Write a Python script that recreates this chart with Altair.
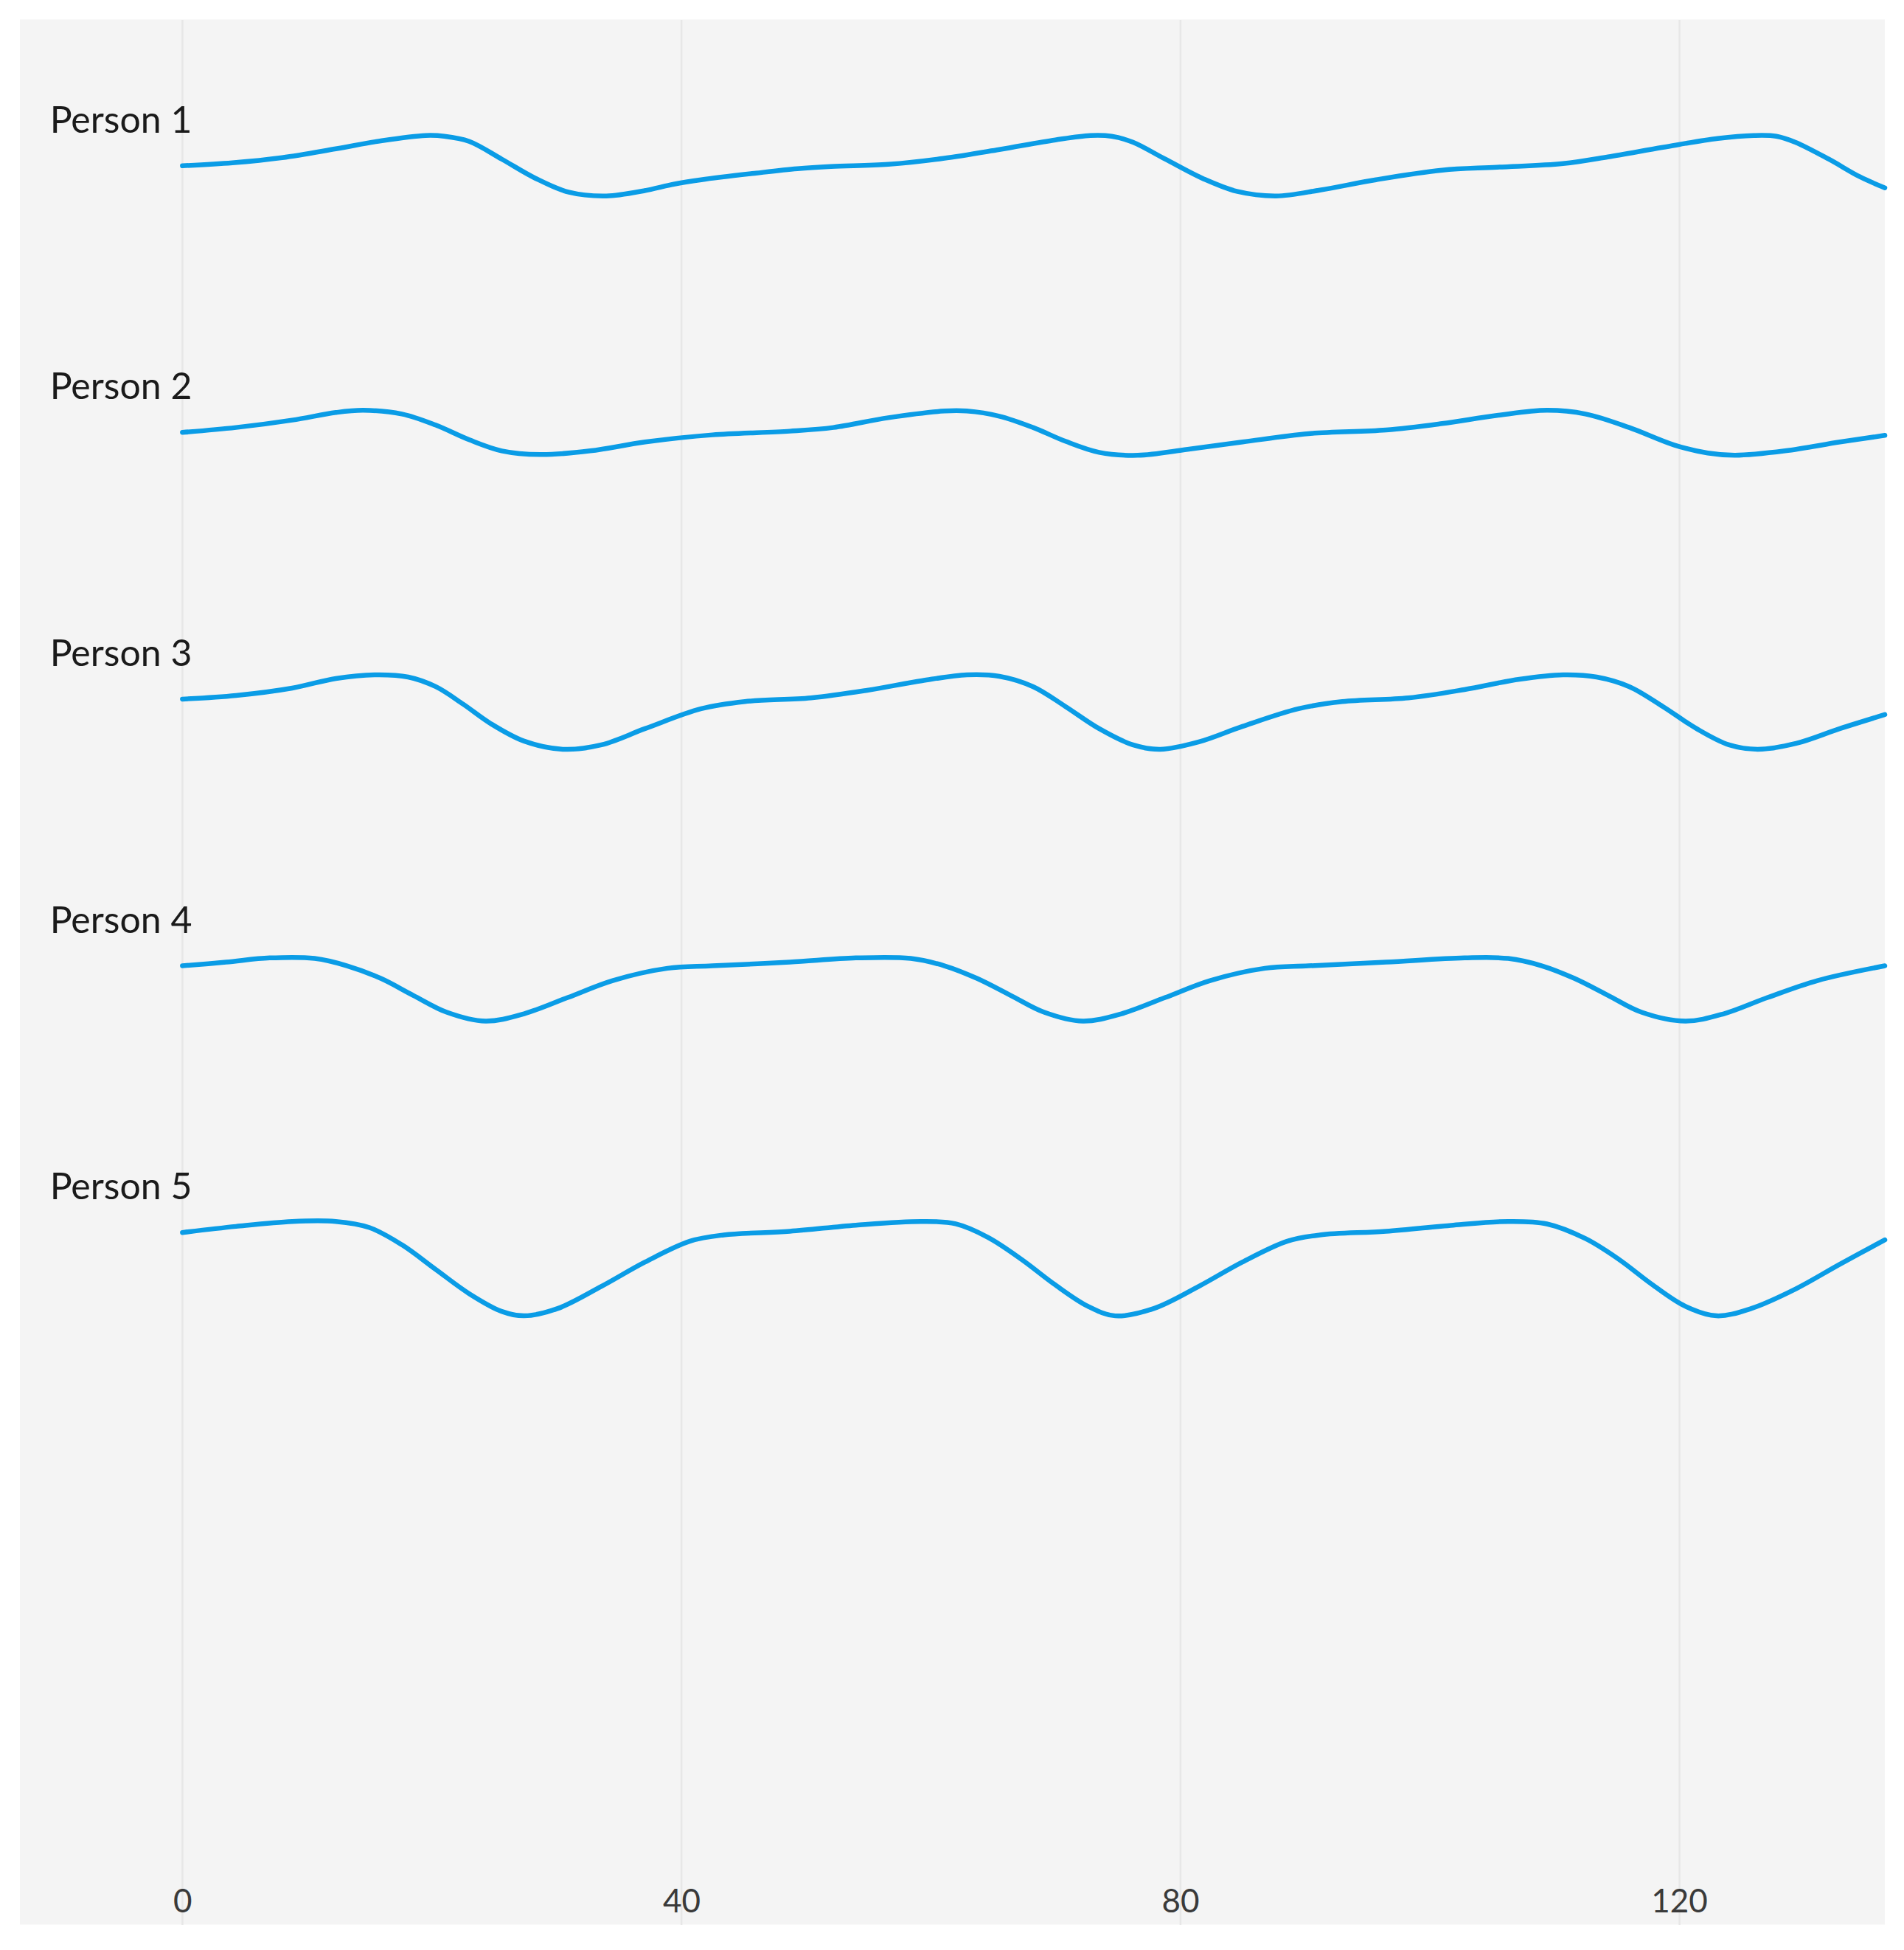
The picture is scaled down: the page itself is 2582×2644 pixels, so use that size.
import altair as alt
import pandas as pd

persons = ["Person 1", "Person 2", "Person 3", "Person 4", "Person 5"]

p1_x = [0, 4, 8, 12.3, 16, 19.5, 21, 23, 25.6, 28.3, 31, 34, 37, 39.4, 41.6, 46, 49.3, 52, 56.6,
        61, 65.5, 70, 72.8, 74.5, 76.2, 78.8, 81.9, 84.6, 87.7, 91.2, 95.7, 101, 105.4, 110.7,
        114.3, 118.7, 123.1, 126, 127.8, 129.3, 132, 134.5, 136.5]
p1_v = [0, 0.4, 1.1, 2.3, 3.4, 4.1, 4.0, 3.3, 0.9, -1.7, -3.6, -4.1, -3.4, -2.5, -1.9, -1.0, -0.4, -0.1, 0.2,
        1.0, 2.2, 3.5, 4.1, 4.0, 3.2, 0.9, -1.8, -3.5, -4.1, -3.3, -1.9, -0.6, -0.2, 0.3,
        1.2, 2.5, 3.7, 4.1, 4.0, 3.2, 0.9, -1.5, -3.0]

p2_x = [0, 4.3, 8.8, 12.3, 14.5, 17.6, 20.3, 23, 25.6, 28.7, 32.7, 37.1, 42.5, 48.7, 52.2, 56.6,
        61.1, 62.9, 65.5, 68.2, 70.8, 73.5, 76.6, 80.6, 85, 90.3, 96.5, 101, 105.4, 109.4,
        112.5, 116, 119.6, 122.3, 124.5, 128.5, 132.9, 136.5]
p2_v = [0, 0.67, 1.67, 2.7, 3.0, 2.5, 1.0, -1.0, -2.5, -3.0, -2.5, -1.3, -0.33, 0.17, 0.67, 2.0,
        2.9, 2.9, 2.2, 0.67, -1.2, -2.7, -3.1, -2.3, -1.3, -0.17, 0.33, 1.2, 2.3, 3.0,
        2.5, 0.67, -1.7, -2.8, -3.1, -2.5, -1.3, -0.4]

p3_x = [0, 4.3, 8.8, 12.3, 15.4, 18.1, 20.3, 22.5, 24.7, 27.4, 30.5, 33.6, 37.1, 41.6, 45.1, 50.4,
        54.9, 59.3, 62.9, 65.5, 68.2, 70.8, 73.5, 76.2, 78.4, 81.5, 85, 89.5, 93, 98.3,
        102.8, 107.2, 110.7, 113.4, 116, 118.7, 121.4, 124, 126.3, 129.4, 132.9, 136.5]
p3_v = [0, 0.5, 1.5, 2.8, 3.3, 3.0, 1.7, -0.67, -3.3, -5.7, -6.8, -6.2, -4.0, -1.3, -0.33, 0.17,
        1.2, 2.5, 3.3, 3.1, 1.7, -1.0, -4.0, -6.2, -6.8, -5.8, -3.7, -1.3, -0.33, 0.17,
        1.3, 2.7, 3.3, 3.0, 1.7, -1.0, -4.0, -6.2, -6.8, -6.0, -4.0, -2.1]

p4_x = [0, 3.5, 7, 10.6, 13.2, 15.9, 18.5, 21.2, 24.3, 27.4, 30.9, 34.5, 38.9, 42.5, 48.7, 54,
        58.4, 61.1, 63.7, 66.4, 69.1, 72.2, 75.3, 78.8, 82.4, 86.8, 90.3, 96.5, 102.8, 106.3,
        109, 111.6, 114.3, 117, 120.5, 123.6, 127.1, 131.1, 136.5]
p4_v = [0, 0.5, 1.07, 1.0, 0, -1.7, -4.0, -6.3, -7.5, -6.5, -4.3, -2.0, -0.33, 0, 0.5, 1.07,
        1.0, 0, -1.7, -4.0, -6.3, -7.5, -6.5, -4.3, -2.0, -0.33, 0, 0.5, 1.07, 1.0,
        0, -1.7, -4.0, -6.3, -7.5, -6.5, -4.3, -2.0, 0]

p5_x = [0, 4.3, 8.8, 12.3, 15, 17.6, 20.3, 23, 25.6, 27.4, 30.1, 33.6, 37.1, 40.7, 43.4, 48.7,
        54, 59.3, 62, 64.6, 67.3, 69.9, 72.6, 74.8, 77.9, 81.5, 85, 88.6, 91.2, 96.5,
        101.9, 106.3, 109.4, 112.5, 115.2, 117.8, 120.5, 123, 125.8, 129.3, 132.9, 136.5]
p5_v = [0, 0.83, 1.5, 1.5, 0.67, -1.67, -5.0, -8.3, -10.7, -11.3, -10.3, -7.3, -4.0, -1.17, -0.33, 0.17,
        1.0, 1.5, 1.17, -0.67, -3.67, -7.0, -10.0, -11.3, -10.3, -7.3, -4.0, -1.17, -0.33, 0.17,
        1.0, 1.5, 1.17, -0.83, -3.67, -7.0, -10.0, -11.3, -10.3, -7.7, -4.3, -1.0]

x_ticks = [0, 40, 80, 120]

series_x = [p1_x, p2_x, p3_x, p4_x, p5_x]
series_v = [p1_v, p2_v, p3_v, p4_v, p5_v]

rows = []
for i, (name, xs, vs) in enumerate(zip(persons, series_x, series_v)):
    for xv, vv in zip(xs, vs):
        rows.append({"person": name, "idx": i, "x": xv, "value": vv})
df = pd.DataFrame(rows)
labels_df = pd.DataFrame({"person": persons, "idx": list(range(len(persons)))})

SPACING = 36.175
x_scale = alt.Scale(domain=[-13.03, 136.5], nice=False, zero=False)
y_scale = alt.Scale(domain=[-238.57, 19.83], nice=False, zero=False)

lines = alt.Chart(df).transform_calculate(
    yy=f"datum.value - {SPACING} * datum.idx"
).mark_line(
    interpolate="catmull-rom", color="#0a9ce6", strokeWidth=6.5, strokeCap="round"
).encode(
    x=alt.X("x:Q", scale=x_scale, title="",
            axis=alt.Axis(values=x_ticks, grid=True, gridColor="#e7e7e7", gridWidth=2.5,
                          domain=False, ticks=False, labelFontSize=44, labelColor="#3a3a3a",
                          labelFont="Segoe UI, Lato, sans-serif", labelBaseline="alphabetic",
                          labelPadding=0, offset=-17, labelFlush=False)),
    y=alt.Y("yy:Q", scale=y_scale, axis=None),
    detail="person:N",
)

texts = alt.Chart(labels_df).transform_calculate(
    ly=f"4.5 - {SPACING} * datum.idx"
).mark_text(
    align="left", baseline="alphabetic", fontSize=50, color="#1a1a1a",
    font="Segoe UI, Lato, sans-serif"
).encode(
    x=alt.value(40.7),
    y=alt.Y("ly:Q", scale=y_scale, axis=None),
    text="person:N",
)

chart = alt.layer(lines, texts).properties(
    width=2530, height=2584,
    padding={"left": 19, "top": 18, "right": 5, "bottom": 5},
).configure(background="white").configure_view(fill="#f4f4f4", stroke="#f4f4f4", strokeWidth=0)

chart.save("out.html", embed_options={"renderer": "svg", "actions": False})
